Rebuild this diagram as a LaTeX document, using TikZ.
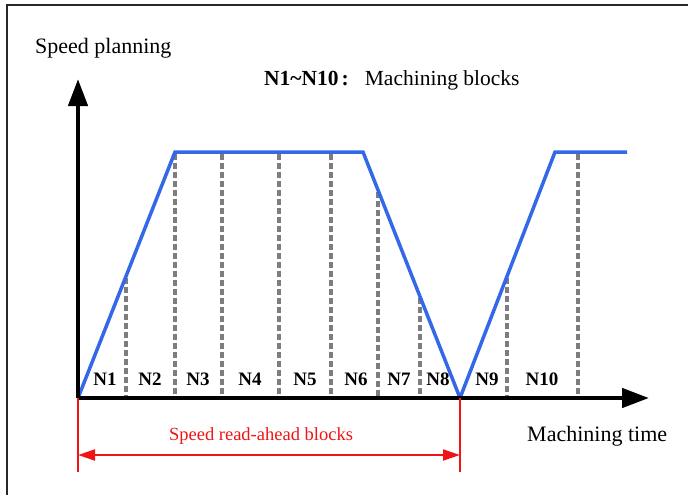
\documentclass[tikz,border=0pt]{standalone}
\usepackage{fontspec}
\setmainfont{Liberation Serif}
\usetikzlibrary{arrows.meta}
\definecolor{planblue}{RGB}{52,104,232}
\definecolor{blockgray}{RGB}{125,125,125}
\definecolor{readred}{RGB}{240,20,20}
\definecolor{framegray}{RGB}{40,40,40}
\tikzset{
  axis/.style={line width=4.5pt, -{Triangle[length=27pt,width=19pt]}},
  profile/.style={draw=planblue, line width=3.5pt, line join=miter},
  blockline/.style={draw=blockgray, line width=3.5pt, dash pattern=on 5.5pt off 3.5pt},
  blocklabel/.style={font=\fontsize{19}{19}\selectfont\bfseries, inner sep=0pt},
  plaintext/.style={font=\fontsize{22}{22}\selectfont, inner sep=0pt},
  readline/.style={draw=readred, line width=2pt},
  readarrow/.style={readline, {Triangle[length=17pt,width=11pt]}-{Triangle[length=17pt,width=11pt]}}
}
\begin{document}
\begin{tikzpicture}[x=1pt,y=-1pt]
\useasboundingbox (0,0) rectangle (688,495);
% frame
\draw[framegray, line width=1.5pt] (7,495) -- (7,5) -- (688,5);

% axes
\coordinate (o) at (78,398);
\coordinate (ytip) at (78,79);
\coordinate (xtip) at (649,398);

% speed profile corners
\coordinate (p1) at (175,152);
\coordinate (p2) at (363,152);
\coordinate (p3) at (460,398);
\coordinate (p4) at (555,152);
\coordinate (p5) at (627,152);

% block boundaries (on the profile and on the time axis)
\coordinate (b1) at (126,278);  \coordinate (a1) at (126,398);
\coordinate (b2) at (175,154);  \coordinate (a2) at (175,398);
\coordinate (b3) at (222,154);  \coordinate (a3) at (222,398);
\coordinate (b4) at (279,154);  \coordinate (a4) at (279,398);
\coordinate (b5) at (331,154);  \coordinate (a5) at (331,398);
\coordinate (b6) at (378,192);  \coordinate (a6) at (378,398);
\coordinate (b7) at (420,298);  \coordinate (a7) at (420,398);
\coordinate (b8) at (507,278);  \coordinate (a8) at (507,398);
\coordinate (b9) at (578,154);  \coordinate (a9) at (578,398);

\foreach \i in {1,...,9}{
  \draw[blockline] (b\i) -- (a\i);
}

\draw[profile] (o) -- (p1) -- (p2) -- (p3) -- (p4) -- (p5);

\draw[axis] (o) -- (ytip);
\draw[axis] (o) -- (xtip);

% block labels
\node[blocklabel] (n1) at (105,379) {N1};
\node[blocklabel] (n2) at (150,379) {N2};
\node[blocklabel] (n3) at (198,379) {N3};
\node[blocklabel] (n4) at (250,379) {N4};
\node[blocklabel] (n5) at (305,379) {N5};
\node[blocklabel] (n6) at (356,379) {N6};
\node[blocklabel] (n7) at (399,379) {N7};
\node[blocklabel] (n8) at (438,379) {N8};
\node[blocklabel] (n9) at (487,379) {N9};
\node[blocklabel] (n10) at (542,379) {N10};

% axis titles and legend
\node[plaintext, anchor=west] (ylabel) at (35,48) {Speed planning};
\node[plaintext, anchor=west] (xlabel) at (527,436) {Machining time};
\node[plaintext, anchor=west, font=\fontsize{21.5}{21.5}\selectfont] (legend) at (264,80)
  {\textbf{N1\char"007E N10\hspace{3pt}:}\hspace{16pt}Machining blocks};

% read-ahead span
\coordinate (r0) at (78,472);
\coordinate (r1) at (460,472);
\coordinate (l0) at (78,455);
\coordinate (l1) at (460,455);
\draw[readline] (o) -- (r0);
\draw[readline] (p3) -- (r1);
\draw[readarrow] (l0) -- (l1);
\node[font=\fontsize{18.5}{18.5}\selectfont, text=readred, inner sep=0pt] (readlabel) at (261,436) {Speed read-ahead blocks};
\end{tikzpicture}
\end{document}
